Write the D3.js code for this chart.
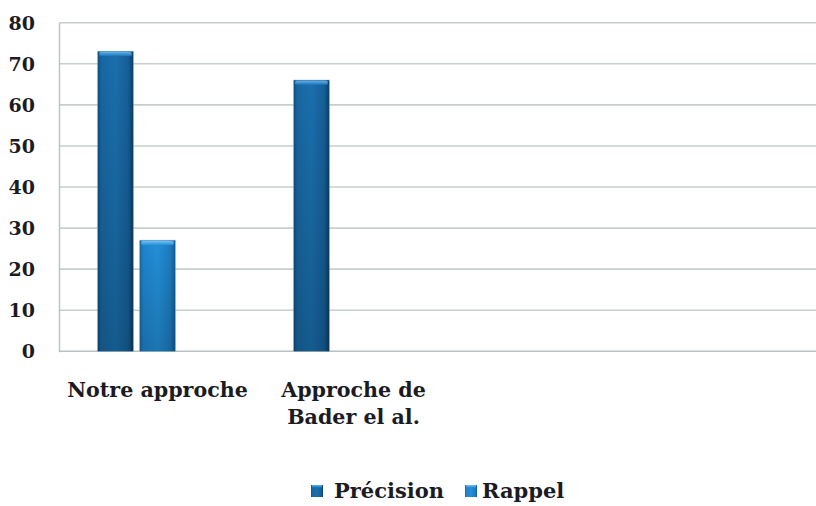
<!DOCTYPE html>
<html>
<head>
<meta charset="utf-8">
<script src="https://cdn.jsdelivr.net/npm/d3@7"></script>
<style>
  html, body { margin: 0; padding: 0; background: #ffffff; }
  svg { display: block; }
  text { font-family: "DejaVu Serif", "Liberation Serif", serif; font-weight: bold; fill: #1b1b24; }
</style>
</head>
<body>
<svg id="chart" width="816" height="506"></svg>
<script>
// Chart data
const categories = ["Notre approche", "Approche de Bader el al."];
const seriesNames = ["Précision", "Rappel"];
const precision = [73, 66];
const rappel = [27, null];
const yTicks = [0, 10, 20, 30, 40, 50, 60, 70, 80];

// Layout
const W = 816, H = 506;
const plot = { left: 59.5, top: 22.7, bottom: 351.3, right: 843.5 };
const clusterSlots = 4;   // category slots along the axis
const barSlots = 3;       // bar slots inside each cluster

const svg = d3.select("#chart");
svg.append("rect").attr("width", W).attr("height", H).attr("fill", "#ffffff");

const y = d3.scaleLinear().domain([0, 80]).range([plot.bottom, plot.top]);
const x = d3.scaleBand().domain(d3.range(clusterSlots)).range([plot.left, plot.right]).padding(0);
const xs = d3.scaleBand().domain(d3.range(barSlots)).range([0, x.bandwidth()])
  .paddingInner(0.155).paddingOuter(0.91);

// Gradients
const defs = svg.append("defs");
const palettes = {
  "Précision": [["0%", "#0e4f80"], ["10%", "#1767a2"], ["50%", "#1a6fad"], ["86%", "#165f98"], ["100%", "#0b3d63"]],
  "Rappel":    [["0%", "#146aa8"], ["10%", "#1f84cc"], ["50%", "#238fd8"], ["86%", "#1c7cc0"], ["100%", "#115c93"]]
};
const bevel = { "Précision": ["#5fb0ea", "#1f77b8"], "Rappel": ["#74c2f4", "#2990d8"] };
seriesNames.forEach((s, i) => {
  const g = defs.append("linearGradient").attr("id", "bar" + i)
    .attr("x1", "0").attr("x2", "1").attr("y1", "0").attr("y2", "0");
  palettes[s].forEach(([o, c]) => g.append("stop").attr("offset", o).attr("stop-color", c));
  const b = defs.append("linearGradient").attr("id", "bev" + i)
    .attr("x1", "0").attr("x2", "0").attr("y1", "0").attr("y2", "1");
  b.append("stop").attr("offset", "0%").attr("stop-color", bevel[s][0]);
  b.append("stop").attr("offset", "100%").attr("stop-color", bevel[s][1]);
});
const shade = defs.append("linearGradient").attr("id", "shade")
  .attr("x1", "0").attr("x2", "0").attr("y1", "0").attr("y2", "1");
shade.append("stop").attr("offset", "0%").attr("stop-color", "#000").attr("stop-opacity", 0);
shade.append("stop").attr("offset", "100%").attr("stop-color", "#000").attr("stop-opacity", 0.18);

// Gridlines
svg.append("g").selectAll("line").data(yTicks.filter(t => t > 0)).join("line")
  .attr("x1", plot.left).attr("x2", W)
  .attr("y1", d => y(d)).attr("y2", d => y(d))
  .attr("stroke", "#c6cfce").attr("stroke-width", 1.6);

// Axis lines
svg.append("line").attr("x1", plot.left).attr("x2", plot.left)
  .attr("y1", plot.top).attr("y2", plot.bottom + 1)
  .attr("stroke", "#b7c2c2").attr("stroke-width", 1.4);
svg.append("line").attr("x1", plot.left).attr("x2", W)
  .attr("y1", plot.bottom).attr("y2", plot.bottom)
  .attr("stroke", "#b7c2c2").attr("stroke-width", 1.6);

// Y tick labels
svg.append("g").selectAll("text").data(yTicks).join("text")
  .attr("x", 35).attr("y", d => y(d)).attr("dy", "0.36em")
  .attr("text-anchor", "end").attr("font-size", 19)
  .text(d => d);

// Bars
const seriesValues = [precision, rappel];
const bars = [];
seriesValues.forEach((vals, si) => {
  vals.forEach((v, ci) => {
    if (v == null) return;
    bars.push({ si, ci, v });
  });
});
const bg = svg.append("g");
bars.forEach(d => {
  const bx = x(d.ci) + xs(d.si), bw = xs.bandwidth();
  const top = y(d.v), h = plot.bottom - top;
  bg.append("rect").attr("x", bx - 0.8).attr("y", top - 0.6).attr("width", bw + 1.6).attr("height", h + 0.6)
    .attr("fill", "#9fb0b8").attr("opacity", 0.55);
  bg.append("rect").attr("x", bx).attr("y", top).attr("width", bw).attr("height", h)
    .attr("fill", `url(#bar${d.si})`);
  bg.append("rect").attr("x", bx).attr("y", top).attr("width", bw).attr("height", h)
    .attr("fill", "url(#shade)");
  bg.append("rect").attr("x", bx + 1.5).attr("y", top + 0.5).attr("width", bw - 3).attr("height", 4)
    .attr("rx", 1.5).attr("fill", `url(#bev${d.si})`);
});

// Category labels (wrapped to the cluster width)
const catG = svg.append("g");
categories.forEach((name, ci) => {
  const cx = x(ci) + x.bandwidth() / 2;
  const t = catG.append("text").attr("text-anchor", "middle").attr("font-size", 20.6)
    .attr("x", cx).attr("y", 397);
  const words = name.split(" ");
  let line = [];
  let tspan = t.append("tspan").attr("x", cx).attr("dy", 0);
  words.forEach(w => {
    line.push(w);
    tspan.text(line.join(" "));
    if (tspan.node().getComputedTextLength() > 188 && line.length > 1) {
      line.pop();
      tspan.text(line.join(" "));
      line = [w];
      tspan = t.append("tspan").attr("x", cx).attr("dy", 27).text(w);
    }
  });
});

// Legend
const legendPos = [{ mx: 311, tx: 334 }, { mx: 465, tx: 482 }];
seriesNames.forEach((s, i) => {
  const p = legendPos[i];
  svg.append("rect").attr("x", p.mx).attr("y", 485).attr("width", 12).attr("height", 12)
    .attr("fill", `url(#bar${i})`);
  svg.append("rect").attr("x", p.mx + 1).attr("y", 485).attr("width", 10).attr("height", 2.5)
    .attr("fill", `url(#bev${i})`);
  svg.append("text").attr("x", p.tx).attr("y", 498).attr("font-size", 21).text(s);
});
</script>
</body>
</html>
